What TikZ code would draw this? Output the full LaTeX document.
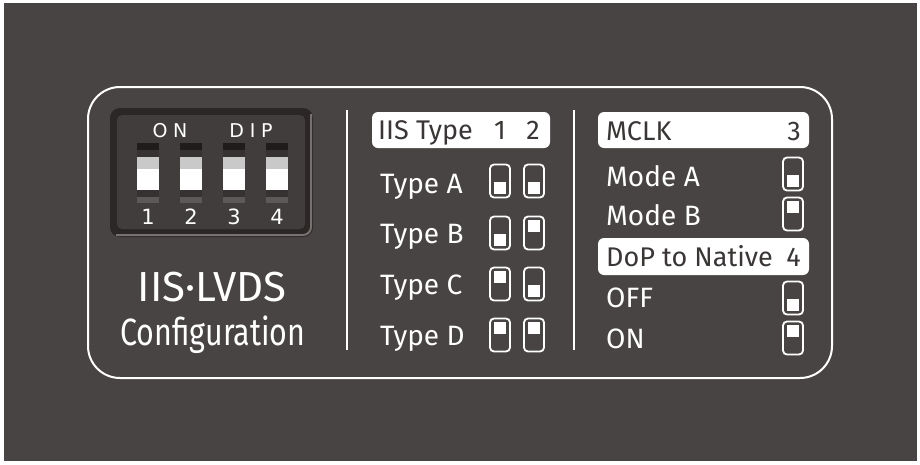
\documentclass[tikz,border=0pt]{standalone}
\usepackage{fontspec}
\setmainfont{Fira Sans}
\newfontfamily\dipfont[LetterSpace=30]{DejaVu Sans}
\newfontfamily\numfont{DejaVu Sans}
\newfontfamily\condfont[FakeStretch=0.8]{Fira Sans}
\definecolor{panel}{HTML}{484443}
\definecolor{ink}{HTML}{3A3636}
\definecolor{dipframe}{HTML}{2B2726}
\definecolor{dipface}{HTML}{413D3C}
\definecolor{diphi}{HTML}{77726F}
\definecolor{slottop}{HTML}{1F1C1B}
\definecolor{slotbody}{HTML}{363231}
\definecolor{slotbot}{HTML}{5D5958}
\definecolor{keygrey}{HTML}{C9C9C9}
\tikzset{
  rowlabel/.style={anchor=base west, inner sep=0pt, text=white, font=\fontsize{28}{30}\selectfont},
  headtext/.style={inner sep=0pt, text=ink, font=\fontsize{27}{30}\selectfont},
  headbox/.style={fill=white, rounded corners=6pt, inner sep=0pt},
  dipnum/.style={inner sep=0pt, text=white, font=\numfont\fontsize{21}{22}\selectfont},
  pics/sw/.style={code={
    \draw[white, line width=1.8pt, rounded corners=4pt] (-10,-16.5) rectangle (10,16.5);
    \fill[white] (-6,#1) rectangle (6,#1+12);
  }},
}
\begin{document}
\begin{tikzpicture}[x=1pt,y=-1pt]
\useasboundingbox (0,0) rectangle (920,464);
\fill[white] (0,0) rectangle (920,464);
\fill[panel] (4,3) rectangle (917,461);
% frame
\draw[white, line width=2pt, rounded corners=32pt] (88,87) rectangle (832,378);
\draw[white, line width=1.6pt] (347,110) -- (347,350);
\draw[white, line width=1.6pt] (574,110) -- (574,350);
% dip switch
\fill[dipframe, rounded corners=10pt] (110,108) rectangle (313,237);
\draw[diphi, line width=2pt, rounded corners=8pt] (311,114) -- (311,235) -- (116,235);
\fill[dipface, rounded corners=5pt] (117,115) rectangle (305,229);
\node[inner sep=0pt, text=white, font=\dipfont\fontsize{19}{20}\selectfont] (on) at (170,131) {ON};
\node[inner sep=0pt, text=white, font=\dipfont\fontsize{19}{20}\selectfont] (dip) at (251,131) {DIP};
\foreach \n/\x in {1/148,2/191,3/234,4/277}{
  \fill[slottop] (\x-11,143) rectangle (\x+11,150);
  \fill[slotbody] (\x-11,150) rectangle (\x+11,197);
  \fill[keygrey] (\x-11,157) rectangle (\x+11,169);
  \fill[white] (\x-11,169) rectangle (\x+11,190);
  \fill[slotbot] (\x-11,197) rectangle (\x+11,203);
  \node[dipnum] (num\n) at (\x,217) {\n};
}
\node[anchor=base, inner sep=0pt, text=white, font=\fontsize{42}{44}\selectfont] (title) at (212,301) {IIS·LVDS};
\node[anchor=base, inner sep=0pt, text=white, font=\condfont\fontsize{38}{40}\selectfont] (config) at (213,345) {Configuration};
% iis type
\node[headbox, minimum width=178pt, minimum height=36pt] (iisbox) at (461,130) {};
\node[headtext, anchor=base west] (iis) at (378,139) {IIS Type};
\node[headtext, anchor=base] (col1) at (500,139) {1};
\node[headtext, anchor=base] (col2) at (533,139) {2};
\foreach \name/\base/\mid/\a/\b in {A/193/181/1/1, B/243/233/1/-13, C/294/284/-13/1, D/345/335/-13/-13}{
  \node[rowlabel] (type\name) at (380,\base) {Type \name};
  \pic at (500,\mid) {sw=\a};
  \pic at (534,\mid) {sw=\b};
}
% mclk
\node[headbox, minimum width=211pt, minimum height=36pt] (mclkbox) at (703.5,130) {};
\node[headtext, anchor=base west] (mclk) at (606,140) {MCLK};
\node[headtext, anchor=base east] (col3) at (801,140) {3};
% dop
\node[headbox, minimum width=211pt, minimum height=37pt] (dopbox) at (703.5,256.5) {};
\node[headtext, anchor=base west] (dop) at (606,266) {DoP to Native};
\node[headtext, anchor=base east] (col4) at (801,266) {4};
\foreach \id/\txt/\base/\mid/\a in {modea/Mode A/186/174/1, modeb/Mode B/225/214/-13, off/OFF/307/298/1, on/ON/348/338/-13}{
  \node[rowlabel] (\id) at (606,\base) {\txt};
  \pic at (793,\mid) {sw=\a};
}
\end{tikzpicture}
\end{document}
